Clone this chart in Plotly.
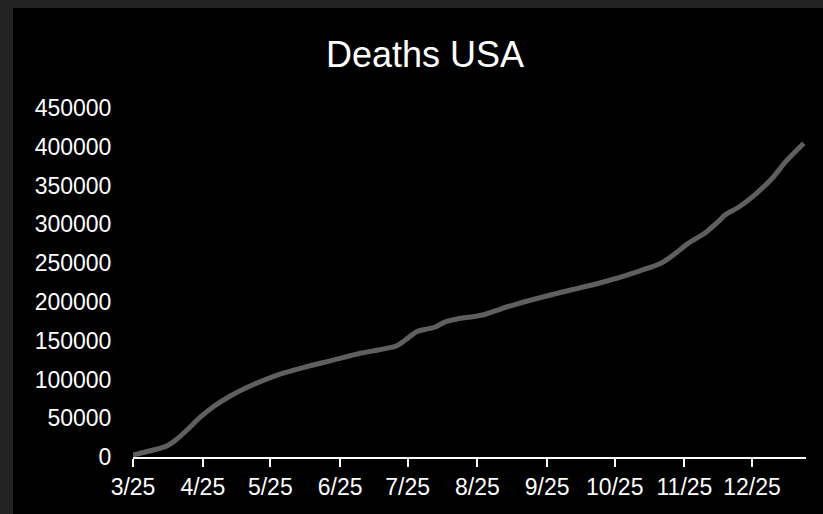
import plotly.graph_objects as go

dates = ["2020-03-25", "2020-04-03", "2020-04-09", "2020-04-13", "2020-04-18",
         "2020-04-24", "2020-04-30", "2020-05-07", "2020-05-17", "2020-05-29",
         "2020-06-10", "2020-06-22", "2020-07-04", "2020-07-12", "2020-07-20",
         "2020-07-24", "2020-07-29", "2020-08-02", "2020-08-06", "2020-08-11",
         "2020-08-16", "2020-08-25", "2020-08-29", "2020-09-04", "2020-09-11",
         "2020-09-30", "2020-10-18", "2020-11-05", "2020-11-15", "2020-11-21",
         "2020-11-27", "2020-12-04", "2020-12-10", "2020-12-13", "2020-12-19",
         "2020-12-27", "2021-01-03", "2021-01-09", "2021-01-17"]
deaths = [2580, 9030, 14200, 21900, 34800,
          51600, 65400, 78400, 92800, 106600,
          116400, 125000, 133700, 138000, 143100,
          150800, 161600, 164700, 167300, 174500,
          178000, 181800, 184400, 190500, 196900,
          211500, 224000, 239800, 250500, 262600,
          276300, 288400, 303400, 312000, 322000,
          340000, 359400, 380800, 404500]

tick_dates = ["2020-03-25", "2020-04-25", "2020-05-25", "2020-06-25", "2020-07-25",
              "2020-08-25", "2020-09-25", "2020-10-25", "2020-11-25", "2020-12-25"]
tick_text = ["3/25", "4/25", "5/25", "6/25", "7/25", "8/25", "9/25", "10/25", "11/25", "12/25"]
y_ticks = [0, 50000, 100000, 150000, 200000, 250000, 300000, 350000, 400000, 450000]

W, H = 823, 514
L, R, T, B = 133, 17, 108, 57
pw, ph = W - L - R, H - T - B

FONT = "Liberation Sans"

fig = go.Figure()
fig.add_trace(go.Scatter(
    x=dates, y=deaths, mode="lines",
    line=dict(color="#5f5f5f", width=5, shape="spline", smoothing=0.8),
    hoverinfo="skip", showlegend=False,
))

fig.update_layout(
    width=W, height=H,
    margin=dict(l=L, r=R, t=T, b=B, pad=0),
    paper_bgcolor="#232323",
    plot_bgcolor="#000000",
    title=dict(text="Deaths USA", x=425 / W, xref="container", xanchor="center",
               y=1 - 54 / H, yref="container", yanchor="middle",
               font=dict(family=FONT, size=36, color="#ffffff")),
    shapes=[dict(type="rect", xref="paper", yref="paper", layer="below",
                 x0=(13 - L) / pw, x1=(W - L) / pw,
                 y0=-(H - (T + ph)) / ph - 0.01, y1=(T + ph - 8) / ph,
                 fillcolor="#000000", line=dict(width=0))],
    xaxis=dict(
        type="date", range=["2020-03-25", "2021-01-18"],
        tickmode="array", tickvals=tick_dates, ticktext=tick_text,
        showgrid=False, zeroline=False,
        showline=True, linecolor="#ffffff", linewidth=2,
        ticks="outside", ticklen=8, tickwidth=1.5, tickcolor="#ffffff",
        tickfont=dict(family=FONT, size=23, color="#ffffff"),
    ),
    yaxis=dict(
        range=[0, 450000], tickmode="array", tickvals=y_ticks,
        tickformat="d",
        showgrid=False, zeroline=False, showline=False,
        ticks="outside", ticklen=16, tickcolor="rgba(0,0,0,0)",
        tickfont=dict(family=FONT, size=23, color="#ffffff"),
    ),
)

fig.write_html("out.html")
